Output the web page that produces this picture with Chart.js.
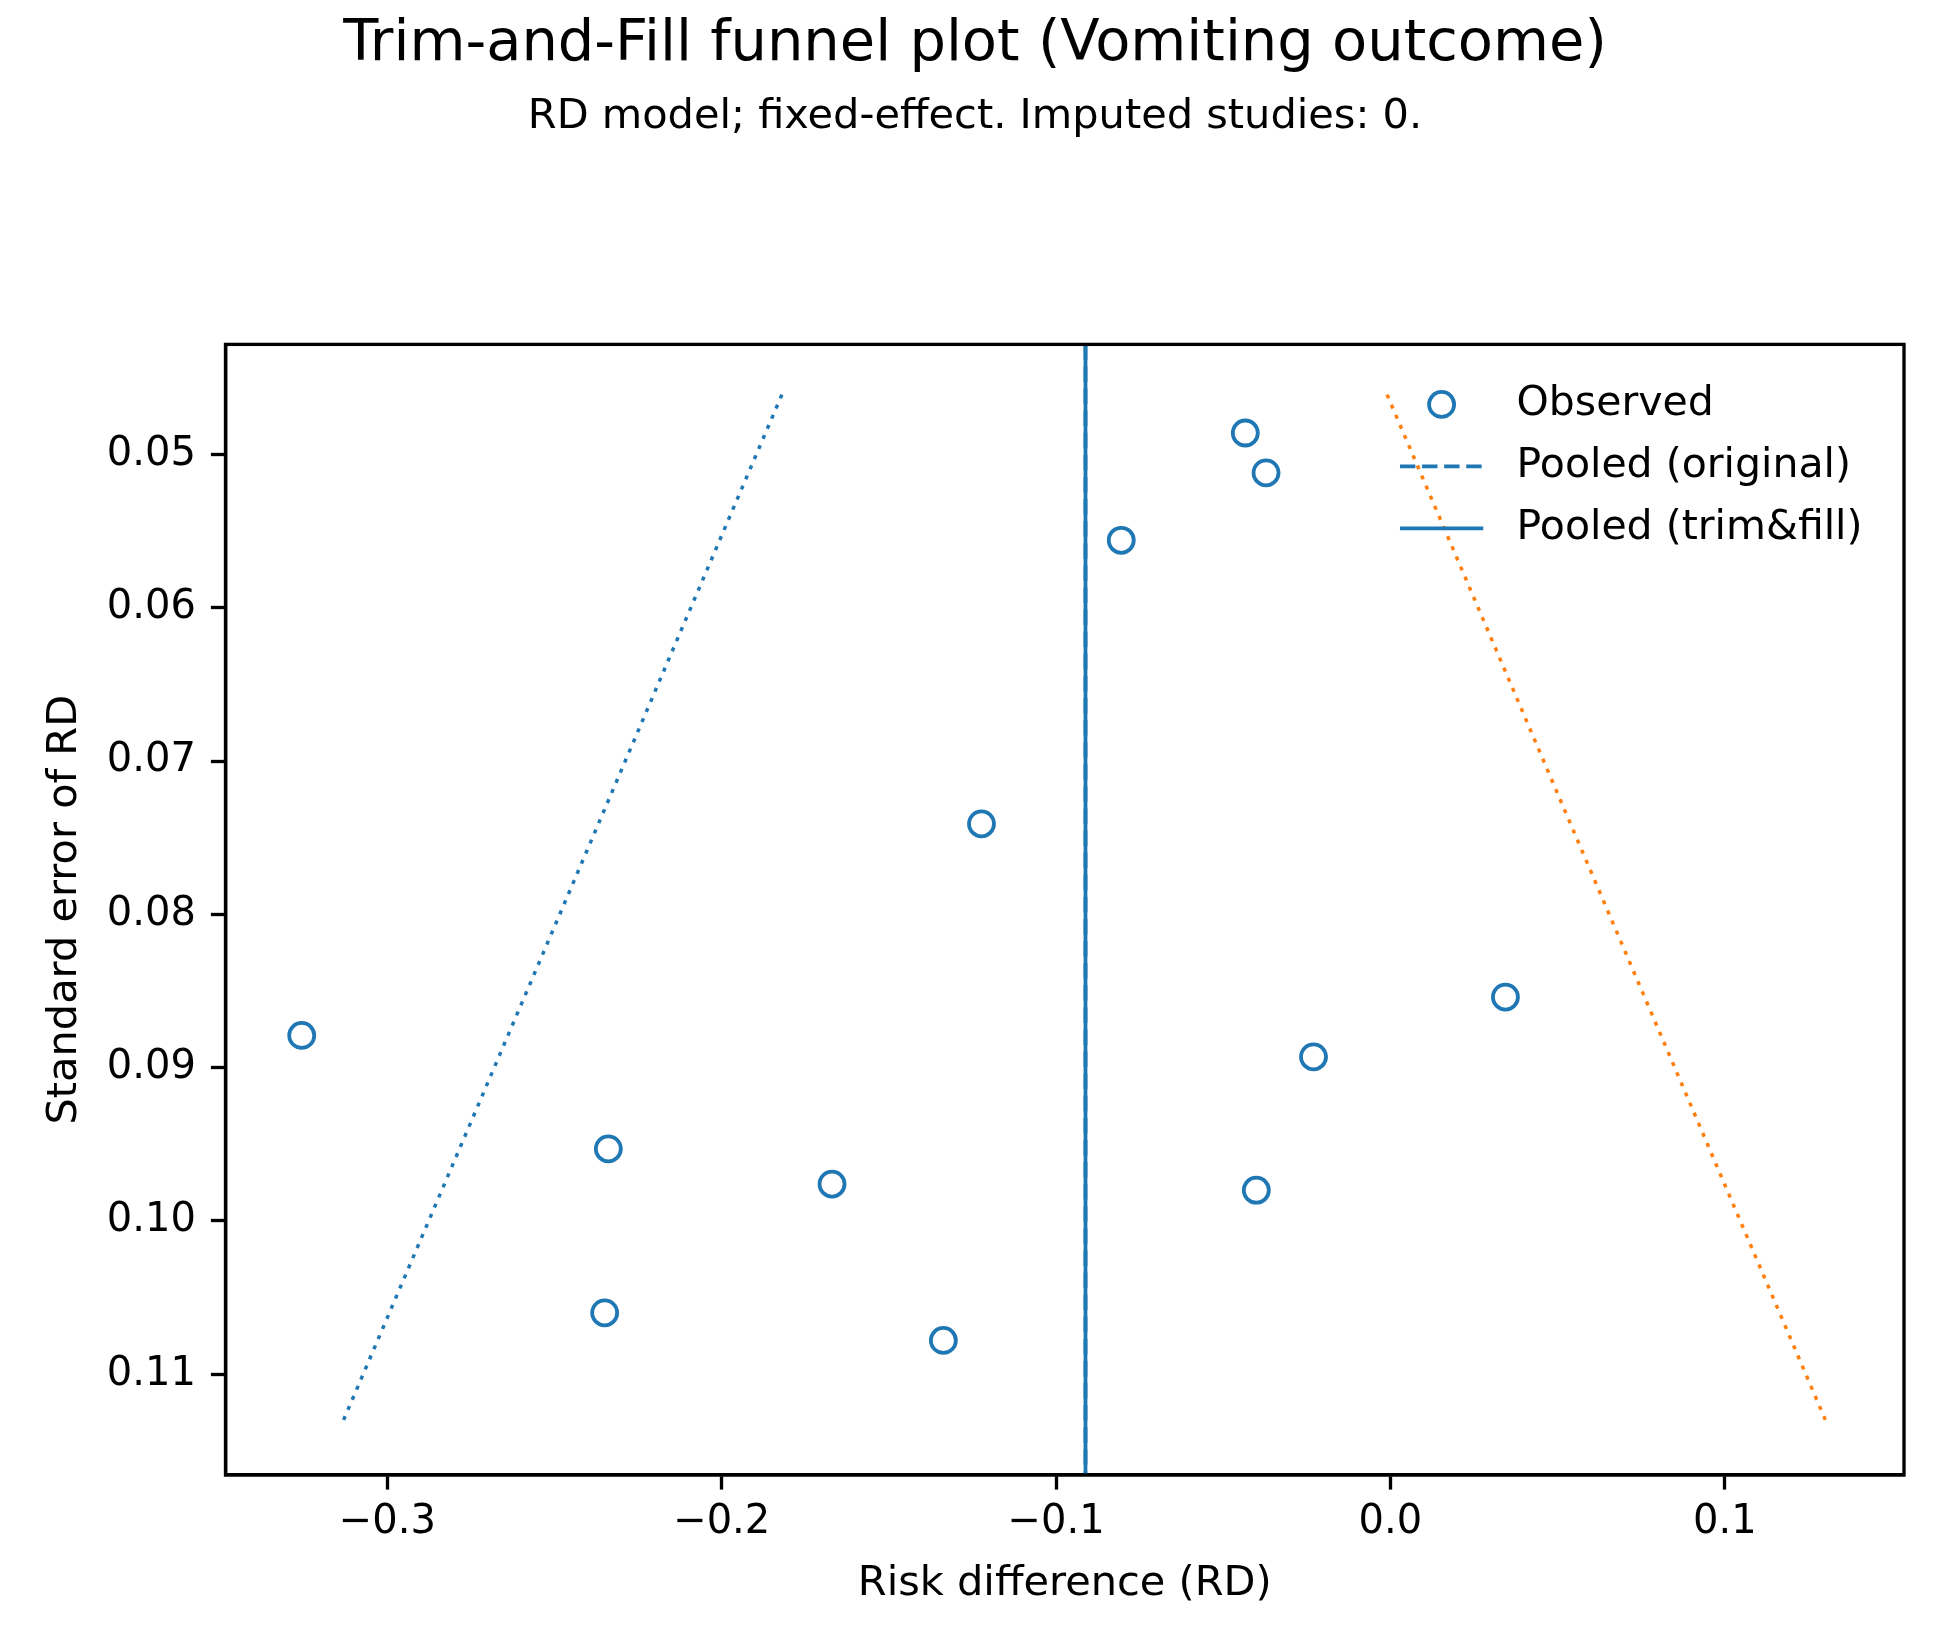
<!DOCTYPE html>
<html><head><meta charset="utf-8">
<script src="https://cdn.jsdelivr.net/npm/chart.js@4.4.1/dist/chart.umd.min.js"></script>
<style>html,body{margin:0;padding:0;background:#fff;}#wrap{width:1950px;height:1650px;}</style>
</head><body><div id="wrap"><canvas id="c" width="1950" height="1650"></canvas></div>
<script>
// ---- data ----
const titleText = 'Trim-and-Fill funnel plot (Vomiting outcome)';
const subtitleText = 'RD model; fixed-effect. Imputed studies: 0.';
const xLabel = 'Risk difference (RD)';
const yLabel = 'Standard error of RD';
const studyRD = [-0.0434, -0.0372, -0.0805, -0.1223, -0.3256, 0.0344, -0.0230, -0.2339, -0.1670, -0.0401, -0.2350, -0.1337];
const studySE = [0.0486, 0.0512, 0.0556, 0.0741, 0.0879, 0.0854, 0.0893, 0.0953, 0.0976, 0.0980, 0.1060, 0.1078];
const pooledOriginal = -0.0912;
const pooledTrimFill = -0.0912;
const funnelSE = [0.0461, 0.1131];
const funnelLower = [-0.1820, -0.3133];
const funnelUpper = [-0.0010, 0.1303];
const xTicks = [-0.3, -0.2, -0.1, 0.0, 0.1];
const yTicks = [0.05, 0.06, 0.07, 0.08, 0.09, 0.10, 0.11];
const xRange = [-0.3484, 0.1536];
const yRange = [0.04282, 0.11658];
const legendLabels = ['Observed', 'Pooled (original)', 'Pooled (trim&fill)'];

const BLUE = '#1f77b4', ORANGE = '#ff7f0e';
const FAMILY = '"DejaVu Sans", sans-serif';
Chart.defaults.font.family = FAMILY;
Chart.defaults.color = '#000';

const frame = {
  id: 'frame',
  afterDatasetsDraw(chart) {
    const {ctx, chartArea: a} = chart;
    ctx.save();
    ctx.strokeStyle = '#000';
    ctx.lineWidth = 3.33;
    ctx.strokeRect(a.left, a.top, a.right - a.left, a.bottom - a.top);
    ctx.restore();
  }
};

const mplLegend = {
  id: 'mplLegend',
  afterDraw(chart) {
    const {ctx, chartArea: a} = chart;
    const items = chart.data.datasets.filter(d => d.legendKind);
    ctx.save();
    ctx.font = '41px ' + FAMILY;
    const textW = Math.max(...items.map(d => ctx.measureText(d.label).width));
    const textX = a.right - 41.5 - textW;
    const hR = textX - 33.3, hL = hR - 83.3, hC = (hL + hR) / 2;
    let y = a.top + 60;
    items.forEach(d => {
      ctx.strokeStyle = d.borderColor;
      if (d.legendKind === 'marker') {
        ctx.lineWidth = d.pointBorderWidth;
        ctx.setLineDash([]);
        ctx.beginPath();
        ctx.arc(hC, y, d.pointRadius, 0, Math.PI * 2);
        ctx.stroke();
      } else {
        ctx.lineWidth = d.borderWidth;
        ctx.setLineDash(d.borderDash || []);
        ctx.beginPath();
        ctx.moveTo(hL, y); ctx.lineTo(hR, y);
        ctx.stroke();
      }
      ctx.setLineDash([]);
      ctx.fillStyle = '#000';
      ctx.textBaseline = 'middle';
      ctx.textAlign = 'left';
      ctx.fillText(d.label, textX, y);
      y += 62;
    });
    ctx.restore();
  }
};

const observed = studyRD.map((x, i) => ({x, y: studySE[i]}));

new Chart(document.getElementById('c'), {
  type: 'scatter',
  data: {
    datasets: [
      {
        label: legendLabels[0], legendKind: 'marker', order: 5,
        data: observed,
        pointStyle: 'circle', pointRadius: 12.5, pointBorderWidth: 3.8,
        borderColor: BLUE, pointBorderColor: BLUE,
        backgroundColor: 'rgba(0,0,0,0)', pointBackgroundColor: 'rgba(0,0,0,0)'
      },
      {
        label: 'lower', order: 2, showLine: true, pointRadius: 0,
        data: funnelSE.map((y, i) => ({x: funnelLower[i], y})),
        borderColor: BLUE, borderWidth: 3.5, borderDash: [4, 7], borderCapStyle: 'butt'
      },
      {
        label: 'upper', order: 2, showLine: true, pointRadius: 0,
        data: funnelSE.map((y, i) => ({x: funnelUpper[i], y})),
        borderColor: ORANGE, borderWidth: 3.5, borderDash: [4, 7], borderCapStyle: 'butt'
      },
      {
        label: legendLabels[1], legendKind: 'line', order: 1, showLine: true, pointRadius: 0,
        data: yRange.map(y => ({x: pooledOriginal, y})),
        borderColor: BLUE, borderWidth: 3.8, borderDash: [15.4, 6.7]
      },
      {
        label: legendLabels[2], legendKind: 'line', order: 0, showLine: true, pointRadius: 0,
        data: yRange.map(y => ({x: pooledTrimFill, y})),
        borderColor: BLUE, borderWidth: 3.8
      }
    ]
  },
  options: {
    responsive: false, animation: false, devicePixelRatio: 1,
    layout: {padding: 0},
    events: [],
    plugins: {
      legend: {display: false},
      tooltip: {enabled: false},
      title: {display: true, text: titleText, color: '#000',
        font: {size: 57.5, weight: 'normal', lineHeight: 1.2}, padding: {top: 11, bottom: 0}},
      subtitle: {display: true, text: subtitleText, color: '#000',
        font: {size: 41.5, weight: 'normal', lineHeight: 1.2}, padding: {top: 12, bottom: 202.6}}
    },
    scales: {
      x: {
        type: 'linear', position: 'bottom', min: xRange[0], max: xRange[1],
        afterBuildTicks: s => { s.ticks = xTicks.map(v => ({value: v})); },
        afterFit: s => { s.height = 175; },
        ticks: {
          color: '#000', font: {size: 40, lineHeight: 1.2}, padding: 9, maxRotation: 0, autoSkip: false,
          callback: v => (Math.abs(v) < 1e-9 ? '0.0' : v.toFixed(1)).replace('-', '\u2212')
        },
        grid: {drawOnChartArea: false, drawTicks: true, tickLength: 14.6, tickWidth: 3.33, tickColor: '#000'},
        border: {display: true, color: '#000', width: 3.33},
        title: {display: true, text: xLabel, color: '#000', font: {size: 41.5, lineHeight: 1.2}, padding: {top: 0, bottom: 41}}
      },
      y: {
        type: 'linear', position: 'left', reverse: true, min: yRange[0], max: yRange[1],
        afterBuildTicks: s => { s.ticks = yTicks.map(v => ({value: v})); },
        afterFit: s => { s.width = 225.5; },
        ticks: {
          color: '#000', font: {size: 40, lineHeight: 1.2}, padding: 15, autoSkip: false,
          callback: v => v.toFixed(2)
        },
        grid: {drawOnChartArea: false, drawTicks: true, tickLength: 14.6, tickWidth: 3.33, tickColor: '#000'},
        border: {display: true, color: '#000', width: 3.33},
        title: {display: true, text: yLabel, color: '#000', font: {size: 41.5, lineHeight: 1.2}, padding: {top: 40, bottom: 0}}
      },
      rightSpace: {
        type: 'linear', position: 'right', display: true,
        afterFit: s => { s.width = 46; },
        ticks: {display: false},
        grid: {display: false, drawTicks: false},
        border: {display: false},
        title: {display: false}
      }
    }
  },
  plugins: [frame, mplLegend]
});
</script>
</body></html>
